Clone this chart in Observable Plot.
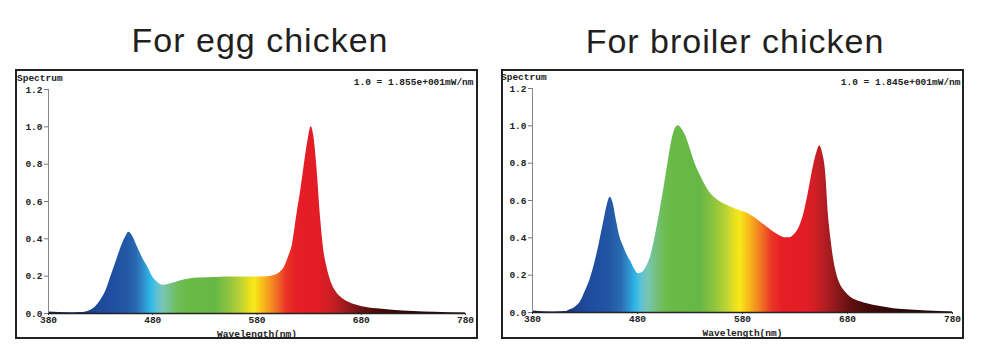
<!DOCTYPE html>
<html>
<head>
<meta charset="utf-8">
<script src="https://cdn.jsdelivr.net/npm/d3@7"></script>
<script src="https://cdn.jsdelivr.net/npm/@observablehq/plot@0.6"></script>
<style>
html, body { margin: 0; padding: 0; background: #fff; width: 982px; height: 354px; overflow: hidden; }
.title { position: absolute; font-family: "Liberation Sans", Arial, sans-serif; font-size: 34px; letter-spacing: 1px; color: #231f20; white-space: nowrap; transform: translateX(-50%); line-height: 1; }
.panel { position: absolute; border: 2px solid #222; box-sizing: border-box; background: #fff; }
.panel svg { display: block; overflow: visible; }
</style>
</head>
<body>
<div class="title" id="t-egg" style="left:260px; top:23px;"></div>
<div class="title" id="t-broiler" style="left:735px; top:24px;"></div>
<div class="panel" id="p-egg" style="left:15px; top:69px; width:463px; height:270px;"></div>
<div class="panel" id="p-broiler" style="left:501px; top:69px; width:463px; height:270px;"></div>
<script>
// ---- data ----
const titles = ["For egg chicken", "For broiler chicken"];
const notes = ["1.0 = 1.855e+001mW/nm", "1.0 = 1.845e+001mW/nm"];
const xTicks = [380, 480, 580, 680, 780];
const yTicks = [0, 0.2, 0.4, 0.6, 0.8, 1.0, 1.2];
const yLabel = "Spectrum";
const xLabel = "Wavelength(nm)";

const eggNm = [380, 400, 410, 417, 425, 430, 435, 440, 445, 450, 454, 457, 460, 465, 470, 475, 480, 485, 490, 495, 500, 507, 515, 525, 540, 560, 580, 590, 597, 602, 606, 610, 614, 618, 622, 625, 629, 632, 634.5, 637.5, 641, 644, 647, 651, 656, 662, 670, 680, 695, 710, 730, 750, 780];
const eggVal = [0.008, 0.004, 0.005, 0.01, 0.035, 0.07, 0.12, 0.2, 0.28, 0.36, 0.41, 0.435, 0.42, 0.36, 0.30, 0.25, 0.195, 0.165, 0.152, 0.155, 0.163, 0.176, 0.185, 0.19, 0.193, 0.195, 0.195, 0.197, 0.205, 0.22, 0.245, 0.30, 0.37, 0.52, 0.66, 0.78, 0.93, 1.0, 0.95, 0.78, 0.51, 0.34, 0.25, 0.17, 0.115, 0.08, 0.055, 0.038, 0.025, 0.017, 0.011, 0.007, 0.003];

const broilerNm = [380, 400, 411, 416, 421, 426, 430, 435, 440, 444, 448, 451, 454, 457, 460, 463, 467, 470, 473, 477, 481, 485, 489, 493, 497, 501, 505, 509, 513, 516, 519, 522, 526, 530, 535, 541, 548, 557, 570, 578, 585, 591, 597, 604, 610, 616, 621, 625, 629, 634, 638, 642, 645, 648, 651, 653.6, 656, 659, 662, 664.5, 667, 670, 673, 678, 683, 690, 699, 710, 724, 740, 756, 780];
const broilerVal = [0.008, 0.003, 0.005, 0.015, 0.03, 0.06, 0.11, 0.18, 0.28, 0.38, 0.49, 0.57, 0.617, 0.58, 0.49, 0.41, 0.35, 0.31, 0.28, 0.235, 0.207, 0.215, 0.25, 0.31, 0.41, 0.53, 0.66, 0.80, 0.93, 0.985, 1.0, 0.985, 0.945, 0.88, 0.795, 0.72, 0.65, 0.60, 0.563, 0.545, 0.53, 0.51, 0.485, 0.455, 0.43, 0.41, 0.40, 0.40, 0.415, 0.456, 0.52, 0.62, 0.71, 0.795, 0.86, 0.893, 0.86, 0.76, 0.51, 0.38, 0.278, 0.2, 0.153, 0.11, 0.082, 0.062, 0.047, 0.033, 0.02, 0.013, 0.008, 0.003];

const spectrumStopNm = [380, 410, 425, 440, 455, 465, 472, 478, 484, 490, 497, 505, 515, 540, 553, 565, 574, 578, 584, 592, 600, 608, 618, 640, 650, 660, 672, 685, 700, 730, 780];
const spectrumStopColor = ["#1b1f4a", "#1d2f6e", "#1e4596", "#1f4e9f", "#2258a5", "#2a6cb3", "#2f92cf", "#2cb6e6", "#5dc2d6", "#78c5b4", "#74c188", "#6ebd55", "#69b945", "#66b846", "#8ec33e", "#bcd334", "#eee21c", "#f7e81b", "#f8c51a", "#f59a1e", "#f06a24", "#eb3526", "#e61e25", "#e21d25", "#d01e25", "#b01c22", "#861719", "#5e1010", "#420a0a", "#2e0606", "#200404"];

// ---- drawing ----
const monoFont = "'Liberation Mono', 'DejaVu Sans Mono', monospace";

function drawPanel(key, idx, nm, val, m) {
  document.getElementById("t-" + key).textContent = titles[idx];
  const data = nm.map((w, i) => ({wl: w, v: val[i]}));
  const gid = "spec-" + key;
  const textOpts = {fontFamily: monoFont, fontWeight: "bold", fontSize: 9.5, fill: "#222"};
  const plot = Plot.plot({
    width: m.w, height: m.h,
    marginLeft: m.l, marginRight: m.r, marginTop: m.t, marginBottom: m.b,
    style: {fontFamily: monoFont, fontSize: "9.5px", fontWeight: "bold", color: "#222", background: "#fff", overflow: "visible"},
    x: {domain: [380, 780]},
    y: {domain: [0, 1.2]},
    marks: [
      Plot.areaY(data, {x: "wl", y: "v", curve: "monotone-x", fill: `url(#${gid})`}),
      Plot.ruleX([380], {y1: 0, y2: 1.2, stroke: "#888", strokeWidth: 1}),
      Plot.axisY({ticks: yTicks, tickSize: 4, tickPadding: 2, stroke: "#777", fill: "#222", tickFormat: d => d.toFixed(1), label: null, ...{fontFamily: monoFont, fontWeight: "bold", fontSize: 9.5}}),
      Plot.axisX({ticks: xTicks, tickSize: 2, tickPadding: 1, stroke: "#444", fill: "#222", tickFormat: d => String(d), label: null, fontFamily: monoFont, fontWeight: "bold", fontSize: 9.5}),
      Plot.ruleY([0], {stroke: "#222", strokeWidth: 1.6}),
      Plot.text([yLabel], {text: d => d, frameAnchor: "top-left", textAnchor: "start", lineAnchor: "middle", dx: -31.5, dy: m.ldy, ...textOpts}),
      Plot.text([xLabel], {text: d => d, frameAnchor: "bottom", textAnchor: "middle", lineAnchor: "middle", dy: 20, ...textOpts}),
      Plot.text([notes[idx]], {text: d => d, frameAnchor: "top-right", textAnchor: "end", lineAnchor: "middle", dx: 8, dy: m.ndy, ...textOpts})
    ]
  });
  const x = plot.scale("x");
  const defs = d3.select(plot).insert("defs", ":first-child");
  const grad = defs.append("linearGradient")
    .attr("id", gid)
    .attr("gradientUnits", "userSpaceOnUse")
    .attr("x1", x.apply(380)).attr("x2", x.apply(780))
    .attr("y1", 0).attr("y2", 0);
  spectrumStopNm.forEach((w, i) => {
    grad.append("stop").attr("offset", (w - 380) / 400).attr("stop-color", spectrumStopColor[i]);
  });
  document.getElementById("p-" + key).appendChild(plot);
}

drawPanel("egg", 0, eggNm, eggVal, {w: 459, h: 266, l: 31, r: 11, t: 18, b: 24, ldy: -12, ndy: -7.3});
drawPanel("broiler", 1, broilerNm, broilerVal, {w: 459, h: 266, l: 29, r: 10, t: 17, b: 25, ldy: -11.3, ndy: -7});
</script>
</body>
</html>
